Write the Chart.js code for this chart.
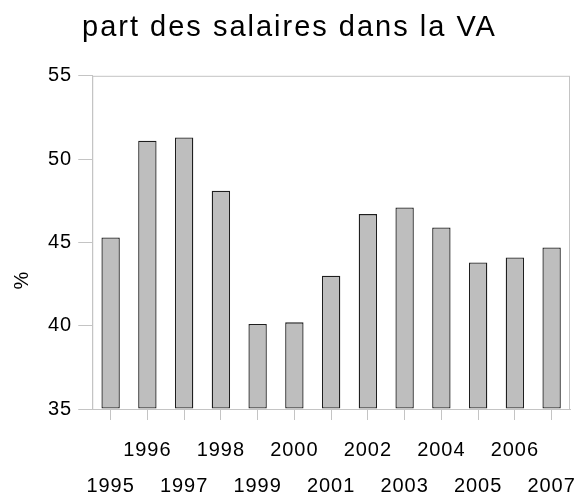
<!DOCTYPE html>
<html>
<head>
<meta charset="utf-8">
<script src="https://cdn.jsdelivr.net/npm/chart.js@4.4.1/dist/chart.umd.min.js"></script>
<style>
	html, body { margin: 0; padding: 0; background: #fff; }
	#wrap { width: 577px; height: 496px; }
</style>
</head>
<body>
<div id="wrap"><canvas id="chartjs-canvas"></canvas></div>
<script>
const years = ['1995', '1996', '1997', '1998', '1999', '2000', '2001', '2002', '2003', '2004', '2005', '2006', '2007'];
const salaryShare = [45.3, 51.1, 51.3, 48.1, 40.1, 40.2, 43.0, 46.7, 47.1, 45.9, 43.8, 44.1, 44.7];
const yTicks = [35, 40, 45, 50, 55];

const fontFamily = '"Liberation Sans", Arial, sans-serif';
const axisGray = '#c4c4c4';

// odd years go on the lower row, even years on the upper row
const staggered = years.map(y => (Number(y) % 2 === 0) ? [y, ''] : ['', y]);

const frame = {
	id: 'frame',
	beforeDraw: chart => {
		chart.ctx.letterSpacing = '1px';
		const tb = chart.titleBlock;
		if (tb && !tb._spaced) {
			const orig = tb.draw;
			tb.draw = function(...args) {
				const prev = this.ctx.letterSpacing;
				this.ctx.letterSpacing = '2px';
				orig.apply(this, args);
				this.ctx.letterSpacing = prev;
			};
			tb._spaced = true;
		}
	},
	afterDraw: chart => {
		const {ctx, chartArea: a} = chart;
		ctx.save();
		ctx.strokeStyle = axisGray;
		ctx.lineWidth = 1;
		ctx.strokeRect(a.left + 0.5, a.top + 0.5, a.right - a.left - 1, a.bottom - a.top);
		ctx.fillStyle = '#000';
		ctx.font = `20px ${fontFamily}`;
		ctx.textAlign = 'center';
		ctx.textBaseline = 'middle';
		ctx.translate(22, 280);
		ctx.rotate(-Math.PI / 2);
		ctx.fillText('%', 0, 0);
		ctx.restore();
	}
};

const config = {
	type: 'bar',
	data: {
		labels: staggered,
		datasets: [{
			label: 'part des salaires',
			data: salaryShare,
			backgroundColor: '#bebebe',
			borderColor: '#1e1e1e',
			borderWidth: 1.3,
			borderSkipped: false,
			categoryPercentage: 1,
			barPercentage: 0.5,
			base: 35
		}]
	},
	options: {
		responsive: false,
		animation: false,
		devicePixelRatio: 1,
		layout: {
			padding: {left: 9, right: 7, top: 0, bottom: 0}
		},
		plugins: {
			legend: {display: false},
			tooltip: {enabled: false},
			title: {
				display: true,
				text: 'part des salaires dans la VA',
				color: '#000',
				padding: {top: 11, bottom: 30},
				font: {family: fontFamily, size: 29, weight: 'normal'}
			}
		},
		scales: {
			x: {
				offset: true,
				border: {display: true, color: axisGray},
				grid: {
					display: true,
					drawOnChartArea: false,
					drawTicks: true,
					tickLength: 11,
					color: axisGray,
					offset: false
				},
				afterFit: scale => {
					scale.height -= 20;
					scale.paddingRight = 0;
				},
				ticks: {
					color: '#000',
					maxRotation: 0,
					autoSkip: false,
					padding: 12,
					font: {family: fontFamily, size: 20, lineHeight: 1.8}
				}
			},
			y: {
				min: 35,
				max: 55,
				border: {display: true, color: axisGray},
				grid: {
					display: true,
					drawOnChartArea: false,
					drawTicks: true,
					tickLength: 14,
					color: axisGray
				},
				// room on the left for the rotated "%" label
				afterFit: scale => { scale.width += 35; },
				afterBuildTicks: scale => {
					scale.ticks = yTicks.map(v => ({value: v}));
				},
				ticks: {
					color: '#000',
					padding: 6,
					font: {family: fontFamily, size: 20}
				}
			}
		}
	},
	plugins: [frame]
};

const canvas = document.getElementById('chartjs-canvas');
canvas.width = 577;
canvas.height = 496;
new Chart(canvas, config);
</script>
</body>
</html>
